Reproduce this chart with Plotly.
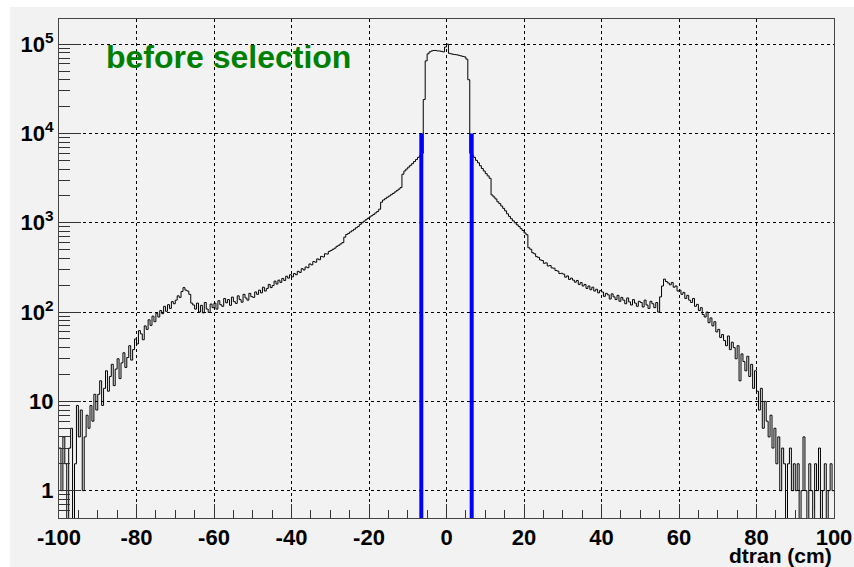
import numpy as np
import plotly.graph_objects as go

# ---- histogram binning (0.5 cm bins from -100 to 100) ----
bin_low = -100.0
bin_width = 0.5

# counts per bin
counts_m100_m50 = [
    3, 1, 4, 2, 0, 3, 5, 0, 2, 9, 4, 8, 1, 4, 7, 5, 9, 6, 12, 8,            # -100 .. -90
    12, 17, 9, 14, 22, 13, 19, 26, 15, 23, 30, 18, 27, 35, 24, 31, 42, 29, 38, 50,  # -90 .. -80
    44, 62, 57, 49, 70, 64, 82, 71, 90, 78, 97, 88, 104, 96, 116, 102, 121, 110, 131, 124,  # -80 .. -70
    136, 152, 146, 170, 188, 176, 172, 158, 126, 120, 108, 126, 100, 119, 98, 128, 108, 99, 123, 112,  # -70 .. -60
    126, 108, 134, 121, 116, 142, 127, 138, 119, 147, 131, 125, 152, 138, 129, 158, 144, 136, 162, 149,  # -60 .. -50
]
counts_m50_0 = [
    146, 168, 158, 176, 164, 190, 172, 184, 204, 188, 198, 222, 206, 228, 215, 238, 226, 252, 240, 262,  # -50 .. -40
    248, 270, 262, 286, 278, 306, 296, 320, 314, 346, 338, 368, 362, 394, 386, 420, 414, 450, 446, 478,  # -40 .. -30
    490, 505, 520, 545, 560, 580, 600, 690, 740, 760, 790, 815, 845, 880, 910, 960, 1000, 1040, 1080, 1120,  # -30 .. -20
    1160, 1200, 1240, 1290, 1340, 1420, 1700, 1800, 1860, 1930, 1990, 2060, 2130, 2210, 2290, 2380, 2480, 3500, 3800, 4000,  # -20 .. -10
    4200, 4400, 4600, 4850, 5100, 5400, 5650, 6000, 24000, 65000, 78000, 82000, 84000, 85000, 85000, 84000, 84000, 83000, 82000, 93000,  # -10 .. 0
]
counts_0_50 = [
    100000, 79000, 78000, 77000, 76500, 76000, 75000, 74000, 73000, 72000, 68000, 40000, 6000, 5700, 5400, 5000, 4700, 4350, 4050, 3800,  # 0 .. 10
    3550, 3350, 3150, 2050, 1950, 1850, 1720, 1640, 1540, 1450, 1360, 1260, 1180, 1110, 1050, 1000, 950, 910, 860, 820,  # 10 .. 20
    770, 735, 525, 505, 462, 450, 418, 410, 384, 378, 352, 356, 328, 332, 312, 310, 292, 288, 270, 272,  # 20 .. 30
    266, 246, 254, 232, 240, 228, 216, 226, 204, 214, 196, 204, 184, 196, 178, 190, 172, 180, 164, 174,  # 30 .. 40
    168, 150, 162, 156, 140, 160, 148, 138, 154, 132, 146, 136, 124, 144, 130, 120, 138, 126, 116, 132,  # 40 .. 50
]
counts_50_100 = [
    128, 114, 136, 120, 110, 132, 124, 112, 128, 100, 148, 196, 234, 220, 212, 202, 214, 190, 196, 172,  # 50 .. 60
    176, 158, 166, 142, 154, 136, 128, 142, 116, 122, 104, 112, 94, 88, 100, 76, 86, 70, 78, 60,  # 60 .. 70
    64, 52, 56, 48, 42, 54, 38, 46, 40, 30, 42, 17, 34, 28, 22, 32, 19, 26, 14, 22,  # 70 .. 80
    13, 8, 14, 5, 10, 6, 4, 7, 3, 5, 2, 4, 1, 3, 2, 0, 2, 3, 1, 2,  # 80 .. 90
    1, 2, 0, 1, 4, 1, 0, 2, 1, 0, 2, 1, 3, 0, 1, 2, 0, 1, 2, 1,  # 90 .. 100
]

# selection cut lines
cut_positions = [-6.5, 6.5]
cut_top = 1e4

# axes
x_tick_values = [-100, -80, -60, -40, -20, 0, 20, 40, 60, 80, 100]
x_tick_labels = ["-100", "-80", "-60", "-40", "-20", "0", "20", "40", "60", "80", "100"]
y_tick_values = [1, 10, 100, 1000, 10000, 100000]
y_tick_labels = ["1", "10", "10<sup>2</sup>", "10<sup>3</sup>", "10<sup>4</sup>", "10<sup>5</sup>"]

label_text = "before selection"
x_title = "dtran (cm)"

# ---- build figure ----
counts = counts_m100_m50 + counts_m50_0 + counts_0_50 + counts_50_100
n = len(counts)
edges = bin_low + bin_width * np.arange(n + 1)
floor = 1e-3  # empty bins drawn down past the axis bottom (as ROOT does)
shown = [c if c > 0 else floor for c in counts]
y_step = shown + [shown[-1]]

fig = go.Figure()
fig.add_trace(go.Scatter(
    x=edges, y=y_step, mode="lines",
    line=dict(color="black", width=1, shape="hv"),
    hoverinfo="skip",
))
for p in cut_positions:
    fig.add_trace(go.Scatter(
        x=[p, p], y=[floor, cut_top], mode="lines",
        line=dict(color="#0000ff", width=4),
        hoverinfo="skip",
    ))

grey = "#f2f2f2"
font_family = "Liberation Sans, Arial, sans-serif"

fig.update_layout(
    width=854, height=567,
    margin=dict(l=59, r=20, t=19, b=49, autoexpand=False),
    paper_bgcolor="white",
    plot_bgcolor=grey,
    showlegend=False,
    font=dict(family=font_family, size=22, color="black"),
)

# grey canvas (white strip along the top and left edge)
fig.add_shape(type="rect", xref="paper", yref="paper",
              x0=-0.0632, x1=1.05, y0=-0.12, y1=1.0241,
              fillcolor=grey, line_width=0, layer="below")

fig.update_xaxes(
    range=[-100, 100], automargin=False,
    tickmode="array", tickvals=x_tick_values, ticktext=x_tick_labels,
    ticks="inside", ticklen=14, tickwidth=1, tickcolor="#333",
    minor=dict(ticks="inside", ticklen=8, tick0=0, dtick=5, tickcolor="#333", showgrid=False),
    showgrid=True, gridcolor="black", griddash="dot", gridwidth=1,
    showline=True, linecolor="#444", linewidth=1, mirror=True, zeroline=False,
    tickfont=dict(family=font_family, size=22, weight="bold", color="black"),
)
fig.update_yaxes(
    type="log", range=[-0.306, 5.282], automargin=False,
    tickmode="array", tickvals=y_tick_values, ticktext=y_tick_labels,
    ticks="inside", ticklen=22, tickwidth=1, tickcolor="#333",
    minor=dict(ticks="inside", ticklen=11, dtick="D1", tickcolor="#333", showgrid=False),
    showgrid=True, gridcolor="black", griddash="dot", gridwidth=1,
    showline=True, linecolor="#444", linewidth=1, mirror=True, zeroline=False,
    tickfont=dict(family=font_family, size=22, weight="bold", color="black"),
)

fig.add_annotation(
    text=label_text, xref="paper", yref="paper", x=0.2187, y=0.924,
    xanchor="center", yanchor="middle", showarrow=False,
    font=dict(family=font_family, size=32, weight="bold", color="#008000"),
)
fig.add_annotation(
    text=x_title, xref="paper", yref="paper", x=1.0, y=-0.075,
    xanchor="right", yanchor="middle", showarrow=False,
    font=dict(family=font_family, size=21, weight="bold", color="black"),
)

# remove the browser's default body margin so the 854x567 figure fills the window
fig.write_html(
    "out.html",
    config={"displayModeBar": False},
    post_script="document.body.style.margin='0';document.body.style.overflow='hidden';",
)
